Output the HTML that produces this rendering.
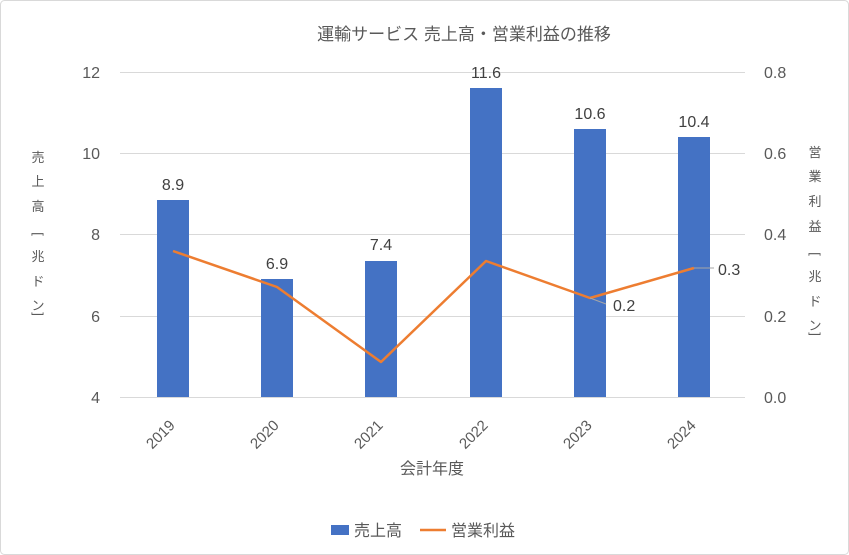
<!DOCTYPE html>
<html><head><meta charset="utf-8"><style>
html,body{margin:0;padding:0;background:#fff}
svg{display:block;font-family:"Liberation Sans","Noto Sans CJK JP",sans-serif}
</style></head><body>
<svg width="849" height="555" xmlns="http://www.w3.org/2000/svg">
<rect x="0.5" y="0.5" width="848" height="554" rx="4" fill="#fff" stroke="#d9d9d9"/>
<text x="464" y="40" font-size="17" fill="#595959" text-anchor="middle">運輸サービス 売上高・営業利益の推移</text>
<g stroke="#d9d9d9" stroke-width="1">
<line x1="120" y1="72.5" x2="745" y2="72.5"/>
<line x1="120" y1="153.5" x2="745" y2="153.5"/>
<line x1="120" y1="234.5" x2="745" y2="234.5"/>
<line x1="120" y1="316.5" x2="745" y2="316.5"/>
<line x1="120" y1="397.5" x2="745" y2="397.5"/>
</g>
<g font-size="16" fill="#595959" text-anchor="end">
<text x="100" y="78">12</text><text x="100" y="159">10</text><text x="100" y="240">8</text><text x="100" y="322">6</text><text x="100" y="403">4</text>
</g>
<g font-size="16" fill="#595959" text-anchor="start">
<text x="764" y="78">0.8</text><text x="764" y="159">0.6</text><text x="764" y="240">0.4</text><text x="764" y="322">0.2</text><text x="764" y="403">0.0</text>
</g>
<g fill="#4472c4">
<rect x="157" y="200" width="32" height="197"/>
<rect x="261" y="279" width="32" height="118"/>
<rect x="365" y="261" width="32" height="136"/>
<rect x="470" y="88" width="32" height="309"/>
<rect x="574" y="129" width="32" height="268"/>
<rect x="678" y="137" width="32" height="260"/>
</g>
<g font-size="16" fill="#404040" text-anchor="middle">
<text x="173" y="190">8.9</text><text x="277" y="269">6.9</text><text x="381" y="250">7.4</text>
<text x="486" y="78">11.6</text><text x="590" y="119">10.6</text><text x="694" y="127">10.4</text>
</g>
<polyline points="173,251 277,287 381,362 486,261 590,298 694,268" fill="none" stroke="#ed7d31" stroke-width="2.5" stroke-linejoin="round"/>
<line x1="590" y1="298" x2="606" y2="304" stroke="#a6a6a6"/>
<line x1="694" y1="268" x2="714" y2="268" stroke="#a6a6a6"/>
<g font-size="16" fill="#404040">
<text x="613" y="311">0.2</text><text x="718" y="275">0.3</text>
</g>
<g font-size="15" fill="#595959" text-anchor="middle">
<text transform="translate(164,438) rotate(-45)">2019</text>
<text transform="translate(268,438) rotate(-45)">2020</text>
<text transform="translate(372,438) rotate(-45)">2021</text>
<text transform="translate(477,438) rotate(-45)">2022</text>
<text transform="translate(581,438) rotate(-45)">2023</text>
<text transform="translate(685,438) rotate(-45)">2024</text>
</g>
<text x="432" y="474" font-size="16" fill="#595959" text-anchor="middle">会計年度</text>
<g font-size="13" fill="#595959" text-anchor="middle">
<text x="38" y="162">売</text><text x="38" y="186">上</text><text x="38" y="211">高</text>
<text x="38" y="238" transform="rotate(90 38 234)">[</text><text x="38" y="261">兆</text><text x="38" y="286">ド</text><text x="38" y="310">ン</text>
<text x="38" y="318" transform="rotate(90 38 314)">]</text>
<text x="815" y="157">営</text><text x="815" y="181">業</text><text x="815" y="206">利</text><text x="815" y="231">益</text>
<text x="815" y="258" transform="rotate(90 815 254)">[</text><text x="815" y="281">兆</text><text x="815" y="306">ド</text><text x="815" y="330">ン</text>
<text x="815" y="338" transform="rotate(90 815 334)">]</text>
</g>
<rect x="331" y="525" width="18" height="10" fill="#4472c4"/>
<text x="354" y="536" font-size="16" fill="#595959">売上高</text>
<line x1="420" y1="530" x2="446" y2="530" stroke="#ed7d31" stroke-width="2.5"/>
<text x="451" y="536" font-size="16" fill="#595959">営業利益</text>
</svg>
</body></html>
